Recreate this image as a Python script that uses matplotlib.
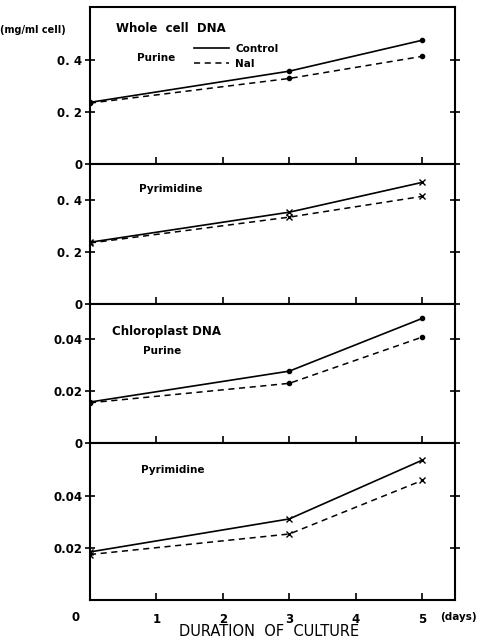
"""
Purine / pyrimidine content of whole cell and chloroplast DNA
over the duration of culture (Control vs Nal)
"""

import matplotlib
matplotlib.use("Agg")
import matplotlib.pyplot as plt

# days of culture
days = [0, 3, 5]

# whole cell DNA (mg/ml cell)
wc_purine_control = [0.238, 0.358, 0.477]
wc_purine_nal = [0.235, 0.330, 0.415]
wc_pyrimidine_control = [0.238, 0.354, 0.469]
wc_pyrimidine_nal = [0.235, 0.335, 0.415]

# chloroplast DNA (mg/ml cell)
cp_purine_control = [0.0158, 0.0277, 0.0480]
cp_purine_nal = [0.0155, 0.0230, 0.0408]
cp_pyrimidine_control = [0.0185, 0.0312, 0.0538]
cp_pyrimidine_nal = [0.0175, 0.0254, 0.0460]

x_ticks = [1, 2, 3, 4, 5]
x_tick_labels = ["1", "2", "3", "4", "5"]

fig = plt.figure(figsize=(4.8, 6.44), dpi=100)
plt.rcParams["font.family"] = ["DejaVu Sans"]

left, width = 0.1875, 0.760
panels = [
    # bottom, height, ylim, yticks, yticklabels, control, nal, marker
    (0.745, 0.2438, 0.604, [0, 0.2, 0.4], ["0", "0. 2", "0. 4"],
     wc_purine_control, wc_purine_nal, "o"),
    (0.528, 0.2174, 0.54, [0, 0.2, 0.4], ["0", "0. 2", "0. 4"],
     wc_pyrimidine_control, wc_pyrimidine_nal, "x"),
    (0.312, 0.2158, 0.0535, [0, 0.02, 0.04], ["0", "0.02", "0.04"],
     cp_purine_control, cp_purine_nal, "o"),
    (0.0683, 0.2438, 0.0604, [0.02, 0.04], ["0.02", "0.04"],
     cp_pyrimidine_control, cp_pyrimidine_nal, "x"),
]

axes = []
for i, (bottom, height, ytop, yt, ytl, ctrl, nal, mk) in enumerate(panels):
    ax = fig.add_axes([left, bottom, width, height])
    ms = 3 if mk == "o" else 4
    ax.plot(days, ctrl, color="black", linewidth=1.2, marker=mk,
            markersize=ms, markeredgewidth=1.0, label="Control")
    ax.plot(days, nal, color="black", linewidth=1.1, linestyle=(0, (4, 3)),
            marker=mk, markersize=ms, markeredgewidth=1.0, label="Nal")
    ax.set_xlim(0, 5.49)
    ax.set_ylim(0, ytop)
    ax.set_yticks(yt)
    ax.set_yticklabels(ytl, fontsize=8.5, fontweight="bold")
    ax.set_xticks(x_ticks)
    ax.tick_params(axis="y", direction="inout", length=7, width=1.2,
                   right=True, pad=2)
    ax.tick_params(axis="x", direction="in", length=5, width=1.2, top=False,
                   pad=9)
    if i < 3:
        ax.set_xticklabels([])
    else:
        ax.set_xticklabels(x_tick_labels, fontsize=8.5, fontweight="bold")
    for s in ax.spines.values():
        s.set_linewidth(1.5)
    axes.append(ax)

# panel labels
ax1, ax2, ax3, ax4 = axes
ax1.text(0.07, 0.84, "Whole  cell  DNA", transform=ax1.transAxes,
         fontsize=8.5, fontweight="bold")
ax1.text(0.13, 0.66, "Purine", transform=ax1.transAxes,
         fontsize=7.5, fontweight="bold")
leg = ax1.legend(loc="upper left", bbox_to_anchor=(0.27, 0.80), frameon=False,
                 fontsize=7.5, handlelength=3.4, labelspacing=0.5,
                 borderpad=0, handletextpad=0.6)
for t in leg.get_texts():
    t.set_fontweight("bold")
for h in leg.legend_handles:
    h.set_marker("")

ax2.text(0.135, 0.8, "Pyrimidine", transform=ax2.transAxes,
         fontsize=7.5, fontweight="bold")
ax3.text(0.06, 0.78, "Chloroplast DNA", transform=ax3.transAxes,
         fontsize=8.5, fontweight="bold")
ax3.text(0.145, 0.64, "Purine", transform=ax3.transAxes,
         fontsize=7.5, fontweight="bold")
ax4.text(0.14, 0.81, "Pyrimidine", transform=ax4.transAxes,
         fontsize=7.5, fontweight="bold")

# shared annotations
fig.text(0.0, 0.948, "(mg/ml cell)", fontsize=7, fontweight="bold")
ax4.text(-0.04, -0.11, "0", transform=ax4.transAxes, fontsize=8.5,
         fontweight="bold", ha="center", va="center")
ax4.text(0.96, -0.11, "(days)", transform=ax4.transAxes, fontsize=7.5,
         fontweight="bold", ha="left", va="center")
fig.text(0.56, 0.012, "DURATION  OF  CULTURE", fontsize=10.5, ha="center")

fig.savefig("out.png", dpi=100)
